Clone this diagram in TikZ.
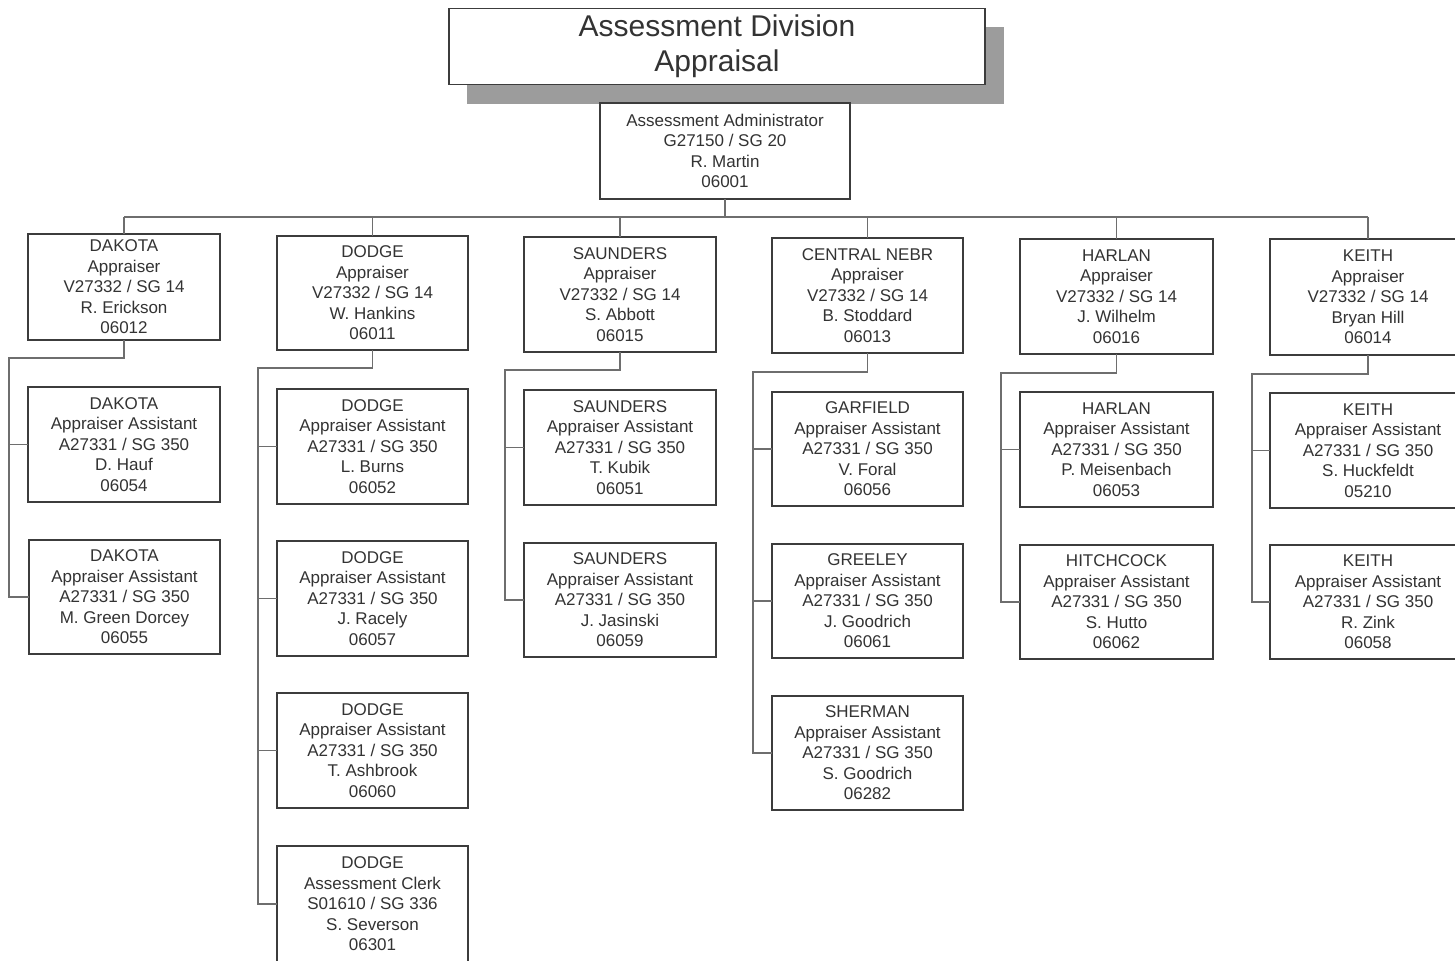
\documentclass[tikz,border=0pt]{standalone}
\usepackage{fontspec}
\setmainfont{Liberation Sans}
\definecolor{ink}{HTML}{333333}
\definecolor{edgec}{HTML}{3C3C3C}
\definecolor{wirec}{HTML}{6E6E6E}
\definecolor{shadowgray}{HTML}{9C9C9C}
\tikzset{
  box/.style={draw=edgec, line width=0.8pt, fill=white, inner sep=0pt, outer sep=0pt,
    align=center, text=ink, font=\fontsize{8.5}{10.25}\selectfont},
  wire/.style={draw=wirec, line width=0.6pt},
}
\newcommand{\bx}[6]{\node[box, minimum width={(#4-#2)*0.5pt}, minimum height={(#5-#3)*0.5pt}] (#1) at ({(#2+#4)/2},{(#3+#5)/2}) {#6};}
\begin{document}
\begin{tikzpicture}[x=0.5pt,y=-0.5pt]
\useasboundingbox (0,0) rectangle (1455,961);
\clip (0,0) rectangle (1455,961);
% title with shadow
\fill[fill=shadowgray] (467,27) rectangle (1004,104);
\node[box, font=\fontsize{15}{17.5}\selectfont, minimum width=268pt, minimum height=38pt] (title) at (717,46.5) {Assessment Division\\Appraisal};
% administrator
\bx{adm}{600}{103}{850}{199}{Assessment Administrator\\G27150 / SG 20\\R. Martin\\06001}
% appraisers
\bx{a1}{28}{234}{220}{340}{DAKOTA\\Appraiser\\V27332 / SG 14\\R. Erickson\\06012}
\bx{a2}{277}{236}{468}{350}{DODGE\\Appraiser\\V27332 / SG 14\\W. Hankins\\06011}
\bx{a3}{524}{237}{716}{352}{SAUNDERS\\Appraiser\\V27332 / SG 14\\S. Abbott\\06015}
\bx{a4}{772}{238}{963}{353}{CENTRAL NEBR\\Appraiser\\V27332 / SG 14\\B. Stoddard\\06013}
\bx{a5}{1020}{239}{1213}{354}{HARLAN\\Appraiser\\V27332 / SG 14\\J. Wilhelm\\06016}
\bx{a6}{1270}{239}{1466}{355}{KEITH\\Appraiser\\V27332 / SG 14\\Bryan Hill\\06014}
% assistants
\bx{b11}{28}{387}{220}{502}{DAKOTA\\Appraiser Assistant\\A27331 / SG 350\\D. Hauf\\06054}
\bx{b12}{29}{540}{220}{654}{DAKOTA\\Appraiser Assistant\\A27331 / SG 350\\M. Green Dorcey\\06055}
\bx{b21}{277}{389}{468}{504}{DODGE\\Appraiser Assistant\\A27331 / SG 350\\L. Burns\\06052}
\bx{b22}{277}{541}{468}{656}{DODGE\\Appraiser Assistant\\A27331 / SG 350\\J. Racely\\06057}
\bx{b23}{277}{693}{468}{808}{DODGE\\Appraiser Assistant\\A27331 / SG 350\\T. Ashbrook\\06060}
\bx{b24}{277}{846}{468}{962}{DODGE\\Assessment Clerk\\S01610 / SG 336\\S. Severson\\06301}
\bx{b31}{524}{390}{716}{505}{SAUNDERS\\Appraiser Assistant\\A27331 / SG 350\\T. Kubik\\06051}
\bx{b32}{524}{543}{716}{657}{SAUNDERS\\Appraiser Assistant\\A27331 / SG 350\\J. Jasinski\\06059}
\bx{b41}{772}{392}{963}{506}{GARFIELD\\Appraiser Assistant\\A27331 / SG 350\\V. Foral\\06056}
\bx{b42}{772}{544}{963}{658}{GREELEY\\Appraiser Assistant\\A27331 / SG 350\\J. Goodrich\\06061}
\bx{b43}{772}{696}{963}{810}{SHERMAN\\Appraiser Assistant\\A27331 / SG 350\\S. Goodrich\\06282}
\bx{b51}{1020}{392}{1213}{507}{HARLAN\\Appraiser Assistant\\A27331 / SG 350\\P. Meisenbach\\06053}
\bx{b52}{1020}{545}{1213}{659}{HITCHCOCK\\Appraiser Assistant\\A27331 / SG 350\\S. Hutto\\06062}
\bx{b61}{1270}{393}{1466}{508}{KEITH\\Appraiser Assistant\\A27331 / SG 350\\S. Huckfeldt\\05210}
\bx{b62}{1270}{545}{1466}{659}{KEITH\\Appraiser Assistant\\A27331 / SG 350\\R. Zink\\06058}
% bus
\coordinate (bus) at (0,217);
\draw[wire] (adm.south) -- (adm.south |- bus);
\draw[wire] (a1.north |- bus) -- (a6.north |- bus);
\foreach \i in {1,...,6} \draw[wire] (a\i.north) -- (a\i.north |- bus);
% rails
\coordinate (r1) at (9,358);
\coordinate (r2) at (258,368);
\coordinate (r3) at (505,370);
\coordinate (r4) at (753,372);
\coordinate (r5) at (1001,373);
\coordinate (r6) at (1252,374);
\draw[wire] (a1.south) |- (r1) |- (b12.west);
\draw[wire] (r1 |- b11.west) -- (b11.west);
\draw[wire] (a2.south) |- (r2) |- (b24.west);
\foreach \j in {1,2,3} \draw[wire] (r2 |- b2\j.west) -- (b2\j.west);
\draw[wire] (a3.south) |- (r3) |- (b32.west);
\draw[wire] (r3 |- b31.west) -- (b31.west);
\draw[wire] (a4.south) |- (r4) |- (b43.west);
\foreach \j in {1,2} \draw[wire] (r4 |- b4\j.west) -- (b4\j.west);
\draw[wire] (a5.south) |- (r5) |- (b52.west);
\draw[wire] (r5 |- b51.west) -- (b51.west);
\draw[wire] (a6.south) |- (r6) |- (b62.west);
\draw[wire] (r6 |- b61.west) -- (b61.west);
\end{tikzpicture}
\end{document}
